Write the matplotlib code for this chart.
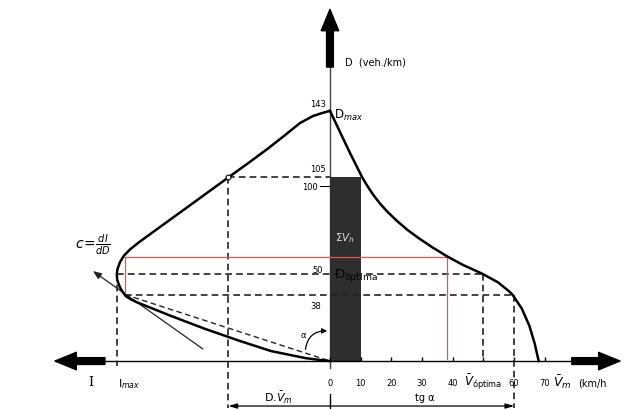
import matplotlib.pyplot as plt
from matplotlib.patches import FancyArrowPatch

# Curva velocidad media - densidad (lado derecho)
dens_v = [143, 136, 128, 119, 112, 105, 100, 95, 90, 85, 80, 75, 70, 65, 60,
          55, 50, 45, 40, 38, 30, 20, 10, 0]
vel = [0, 1.9, 4.05, 6.5, 8.5, 10.5, 12.2, 14.1, 16.3, 18.9, 21.9, 25.2, 29.1,
       33.35, 38.0, 43.25, 49.5, 54.75, 58.25, 59.45, 62.5, 65.0, 66.7, 68.0]

# Curva intensidad - densidad (lado izquierdo), I en veh/h
dens_i = [143, 141.7, 140, 136, 128.6, 121, 113, 105, 97, 87, 75, 68, 64, 60.3,
          56.6, 52.6, 49.7, 46.3, 42.3, 39.4, 37.1, 35.4, 33.7, 25.7, 18.3, 11.7,
          5.7, 1.7, 0.6, 0]
inten = [0, 94, 200, 352, 540, 739, 962, 1190, 1416, 1699, 2039, 2237, 2340,
         2415, 2462, 2492, 2500, 2495, 2465, 2430, 2395, 2340, 2270, 1860, 1460,
         1070, 690, 290, 115, 0]

x_ticks = [0, 10, 20, 30, 40, 60, 70]
x_tick_labels = ['0', '10', '20', '30', '40', '60', '70']

d_max = 143
d_105 = 105
d_opt = 50
d_38 = 38
d_red = 59.4
v_opt = 50
v_38 = 60
v_red = 38
i_max = 2500
i_105 = 1190
i_38 = 2405

I_UNIT = 36  # veh/h por unidad del eje horizontal (lado izquierdo)


def ix(i):
    # intensidad hacia la izquierda
    return -i / I_UNIT


fig = plt.figure(figsize=(6.24, 4.10), dpi=100)
ax = fig.add_axes([0, 0, 1, 1])
ax.set_xlim(-107.5, 95.8)
ax.set_ylim(-27.4, 206.9)
ax.axis('off')

plt.rcParams['font.family'] = ['DejaVu Sans']

# barra sombreada (suma de velocidades)
ax.bar(0, d_105, width=10, align='edge', color='#2e2e2e', zorder=2)

# ejes
ax.plot([-73.3, 78.8], [0, 0], color='k', lw=1.0, zorder=3)
ax.plot([0, 0], [-4, 168.6], color='#444444', lw=1.0, zorder=1)
big = dict(arrowstyle='simple,head_length=1.1,head_width=0.9,tail_width=0.35',
           color='k', mutation_scale=14, shrinkA=0, shrinkB=0)
ax.annotate('', xy=(0, 201), xytext=(0, 168), arrowprops=big)
ax.annotate('', xy=(-89.6, 0), xytext=(-73.3, 0), arrowprops=big)
ax.annotate('', xy=(94.5, 0), xytext=(78.8, 0), arrowprops=big)

# marcas del eje V
ax.plot(x_ticks + [50], [1.2] * 8, linestyle='none', marker='|',
        markersize=3, color='k', zorder=3)

# curvas
ax.plot(vel, dens_v, color='k', lw=1.8, zorder=4, solid_joinstyle='round')
ax.plot([ix(i) for i in inten], dens_i, color='k', lw=1.8, zorder=4,
        solid_joinstyle='round')

# lineas discontinuas
dash = dict(color='#222222', lw=1.2, linestyle=(0, (4, 2.5)), zorder=3)
ax.plot([ix(i_105), 0], [d_105, d_105], **dash)
ax.plot([ix(i_105), ix(i_105)], [d_105, -27], **dash)
ax.plot([ix(i_max), v_opt], [d_opt, d_opt], **dash)
ax.plot([ix(i_max), ix(i_max)], [d_opt, -3], **dash)
ax.plot([v_opt, v_opt], [d_opt, 0], **dash)
ax.plot([ix(i_38), v_38], [d_38, d_38], **dash)
ax.plot([v_38, v_38], [d_38, -27], **dash)
ax.plot([ix(i_38), 0], [d_38, 0], color='#222222', lw=1.0,
        linestyle=(0, (4, 2.5)), zorder=3)
ax.plot([ix(i_105)], [d_105], marker='o', markersize=3.5, mfc='white',
        mec='k', mew=0.8, zorder=5)

# tangente
ax.annotate('', xy=(ix(2780), 51.4), xytext=(ix(1490), 6.9),
            arrowprops=dict(arrowstyle='-|>,head_length=0.5,head_width=0.2',
                            color='#222222', lw=0.9, shrinkA=0, shrinkB=0))

# lineas rojas
red = dict(color='#e65454', lw=0.9, zorder=3)
ax.plot([ix(i_38), v_red], [d_red, d_red], **red)
ax.plot([ix(i_38), ix(i_38)], [d_red, d_38], **red)
ax.plot([v_red, v_red], [d_red, 1], **red)

# angulo
arc = FancyArrowPatch((-8.1, 5.1), (0, 17.1), connectionstyle='arc3,rad=-0.5',
                      arrowstyle='-|>,head_length=3,head_width=1.5',
                      color='k', lw=0.9, zorder=5)
ax.add_patch(arc)
ax.text(-8.8, 15.4, 'α', fontsize=6, ha='center', va='center')

# cota inferior
ax.annotate('', xy=(ix(i_105), -25.7), xytext=(0, -25.7),
            arrowprops=dict(arrowstyle='-|>,head_length=0.5,head_width=0.15',
                            color='k', lw=0.9, shrinkA=0, shrinkB=0))
ax.annotate('', xy=(v_38, -25.7), xytext=(0, -25.7),
            arrowprops=dict(arrowstyle='-|>,head_length=0.5,head_width=0.15',
                            color='k', lw=0.9, shrinkA=0, shrinkB=0))
ax.plot([0, 0], [-19, -27.4], color='k', lw=1.0)
ax.text(-16.9, -20.3, r'D.$\bar{V}_m$', fontsize=8, ha='center', va='center')
ax.text(30.9, -20.6, 'tg α', fontsize=7, ha='center', va='center')

# textos del eje vertical
ax.text(4.9, 170.9, 'D  (veh./km)', fontsize=7, ha='left', va='center')
ax.text(-1.2, 147, str(d_max), fontsize=6, ha='right', va='center')
ax.text(1.3, 141, r'D$_{max}$', fontsize=8.5, ha='left', va='center')
ax.text(-3.9, 110, '105', fontsize=6, ha='center', va='center')
ax.text(-6.5, 100, '100', fontsize=6, ha='center', va='center')
ax.plot([-3.3, 0], [100, 100], color='k', lw=0.8)
ax.text(-3.9, 52.6, '50', fontsize=6, ha='center', va='center')
ax.text(-4.6, 32, '38', fontsize=6, ha='center', va='center')
ax.text(5, 71, r'$\Sigma V_h$', fontsize=7.5, color='#dddddd', ha='center',
        va='center', zorder=6)
ax.text(1.3, 49.5, r'D$_{\mathrm{óptima}}$', fontsize=9.5, ha='left', va='center',
        zorder=6)

# textos del eje horizontal
for v, lab in zip(x_ticks, x_tick_labels):
    ax.text(v, -12, lab, fontsize=6, ha='center', va='center')
ax.text(v_opt, -11.5, r'$\bar{V}_{\mathrm{óptima}}$', fontsize=8.5,
        ha='center', va='center')
ax.text(75.8, -11.5, r'$\bar{V}_m$', fontsize=9, ha='center', va='center')
ax.text(81, -12, '(km/h', fontsize=7, ha='left', va='center')
ax.text(ix(2810), -11.5, 'I', fontsize=9, ha='center', va='center',
        family='DejaVu Serif')
ax.text(ix(i_max) + 4, -12.5, r'I$_{max}$', fontsize=8, ha='center', va='center')
ax.text(ix(2780), 67, r'$c\!=\!\frac{d\,I}{dD}$', fontsize=10, ha='center',
        va='center')

plt.savefig('out.png', dpi=100)
